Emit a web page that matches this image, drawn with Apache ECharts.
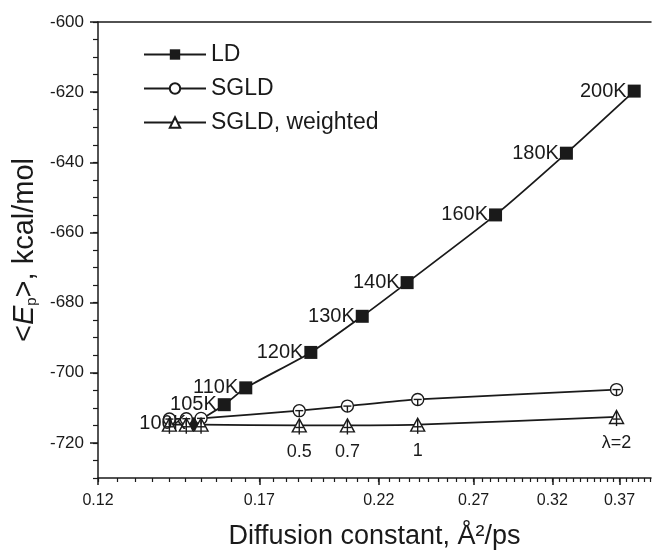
<!DOCTYPE html>
<html>
<head>
<meta charset="utf-8">
<script src="https://cdn.jsdelivr.net/npm/echarts@6/dist/echarts.min.js"></script>
<style>
  html, body { margin: 0; background: #fff; }
  #chart { width: 657px; height: 551px; }
</style>
</head>
<body>
<div id="chart"></div>
<script>
// LD runs at different temperatures
const ldTemps = ['100K', '105K', '110K', '120K', '130K', '140K', '160K', '180K', '200K'];
const ldD = [0.1475, 0.1576, 0.1651, 0.1900, 0.2123, 0.2339, 0.2831, 0.3299, 0.3819];
const ldE = [-714.6, -709.1, -704.3, -694.2, -683.9, -674.3, -655.0, -637.4, -619.7];

// SGLD runs at different lambda
const lambdaLabels = ['', '', '', '0.5', '0.7', '1', 'λ=2'];
const sgldD = [0.1400, 0.1452, 0.1499, 0.1853, 0.2056, 0.2393, 0.3676];
const sgldE = [-713.2, -713.1, -713.0, -710.8, -709.5, -707.6, -704.8];
const weightedE = [-714.8, -714.8, -714.8, -715.0, -715.0, -714.8, -712.6];

const xTicks = [0.12, 0.17, 0.22, 0.27, 0.32, 0.37];
const xMinor = [];
for (let v = 120; v <= 395; v += 5) xMinor.push(v / 1000);
const yTicks = [-720, -700, -680, -660, -640, -620, -600];
const yMinor = [];
for (let v = -730; v <= -600; v += 5) yMinor.push(v);

const X_MIN = 0.12, X_MAX = 0.396;
const Y_MIN = -730, Y_MAX = -600;

const ink = '#1a1a1a';
const font = 'Liberation Sans, Arial, sans-serif';

// x is on a log scale
const lx = v => Math.log(v);

const chart = echarts.init(document.getElementById('chart'));

function errBars(ds, es, up, down, capAt) {
  return {
    type: 'custom',
    xAxisIndex: 0,
    yAxisIndex: 0,
    z: 5,
    silent: true,
    data: ds.map((d, i) => [lx(d), es[i]]),
    renderItem(params, api) {
      const x = api.value(0), y = api.value(1);
      const a = api.coord([x, y + up]);
      const b = api.coord([x, y - down]);
      const c = api.coord([x, y + capAt]);
      const st = { stroke: ink, lineWidth: 1.4 };
      return {
        type: 'group',
        children: [
          { type: 'line', shape: { x1: a[0], y1: a[1], x2: b[0], y2: b[1] }, style: st },
          { type: 'line', shape: { x1: c[0] - 4, y1: c[1], x2: c[0] + 4, y2: c[1] }, style: st }
        ]
      };
    }
  };
}

const option = {
  animation: false,
  textStyle: { fontFamily: font, color: ink },
  grid: { left: 98, right: 6, top: 22, bottom: 73, containLabel: false, outerBoundsMode: 'none' },
  legend: {
    left: 143,
    top: 43,
    padding: 0,
    orient: 'vertical',
    itemWidth: 62,
    itemHeight: 13,
    itemGap: 11,
    data: ['LD', 'SGLD', 'SGLD, weighted'],
    textStyle: { fontSize: 23, color: ink, fontFamily: font }
  },
  xAxis: [
    {
      type: 'value',
      min: lx(X_MIN),
      max: lx(X_MAX),
      position: 'bottom',
      axisLine: { lineStyle: { color: ink, width: 1.5 } },
      axisTick: { length: 7, customValues: xTicks.map(lx), lineStyle: { color: ink, width: 1.5 } },
      axisLabel: {
        customValues: xTicks.map(lx),
        formatter: v => Math.exp(v).toFixed(2),
        fontSize: 16, color: ink, margin: 15
      },
      splitLine: { show: false },
      name: 'Diffusion constant, Å²/ps',
      nameLocation: 'middle',
      nameGap: 45,
      nameTextStyle: { fontSize: 27, color: ink }
    },
    {
      type: 'value',
      min: lx(X_MIN),
      max: lx(X_MAX),
      position: 'bottom',
      axisLine: { show: false },
      axisTick: { length: 4, customValues: xMinor.map(lx), lineStyle: { color: ink, width: 1.2 } },
      axisLabel: { show: false },
      splitLine: { show: false }
    },
    {
      type: 'value',
      min: lx(X_MIN),
      max: lx(X_MAX),
      position: 'top',
      axisLine: { lineStyle: { color: ink, width: 1.5 } },
      axisTick: { show: false },
      axisLabel: { show: false },
      splitLine: { show: false }
    }
  ],
  yAxis: [
    {
      type: 'value',
      min: Y_MIN,
      max: Y_MAX,
      position: 'left',
      axisLine: { show: true, lineStyle: { color: ink, width: 1.5 } },
      axisTick: { show: true, length: 8, customValues: yTicks, lineStyle: { color: ink, width: 1.5 } },
      axisLabel: { customValues: yTicks, fontSize: 17, color: ink, margin: 14 },
      splitLine: { show: false },
      name: '<{it|E}{sub|p}>, kcal/mol',
      nameLocation: 'middle',
      nameGap: 52,
      nameTextStyle: {
        fontSize: 29, color: ink,
        rich: {
          it: { fontSize: 29, fontStyle: 'italic' },
          sub: { fontSize: 15, verticalAlign: 'bottom', padding: [14, 0, 0, 0] }
        }
      }
    },
    {
      type: 'value',
      min: Y_MIN,
      max: Y_MAX,
      position: 'left',
      axisLine: { show: false },
      axisTick: { show: true, length: 5, customValues: yMinor, lineStyle: { color: ink, width: 1.2 } },
      axisLabel: { show: false },
      splitLine: { show: false }
    }
  ],
  series: [
    {
      name: 'LD',
      type: 'line',
      xAxisIndex: 0,
      yAxisIndex: 0,
      smooth: 0.2,
      symbol: 'rect',
      symbolSize: 13,
      itemStyle: { color: ink },
      lineStyle: { color: ink, width: 1.8 },
      data: ldD.map((d, i) => ({ name: ldTemps[i], value: [lx(d), ldE[i]] })),
      label: {
        show: true, position: 'left', distance: 1, formatter: '{b}',
        fontSize: 20, color: ink, fontFamily: font
      }
    },
    {
      name: 'SGLD',
      type: 'line',
      xAxisIndex: 0,
      yAxisIndex: 0,
      smooth: 0.2,
      symbol: 'circle',
      symbolSize: 12,
      itemStyle: { color: '#fff', borderColor: ink, borderWidth: 1.4 },
      lineStyle: { color: ink, width: 1.8 },
      data: sgldD.map((d, i) => [lx(d), sgldE[i]])
    },
    {
      name: 'SGLD, weighted',
      type: 'line',
      xAxisIndex: 0,
      yAxisIndex: 0,
      smooth: 0.2,
      symbol: 'triangle',
      symbolSize: [14, 13],
      itemStyle: { color: '#fff', borderColor: ink, borderWidth: 1.4 },
      lineStyle: { color: ink, width: 1.8 },
      data: sgldD.map((d, i) => ({ name: lambdaLabels[i], value: [lx(d), weightedE[i]] })),
      label: {
        show: true, position: 'bottom', distance: 10, formatter: '{b}',
        fontSize: 18, color: ink, fontFamily: font
      }
    },
    errBars(sgldD, sgldE, 0, 1.7, 0),
    errBars(sgldD, weightedE, 1.5, 2.6, -0.6)
  ]
};

chart.setOption(option);
</script>
</body>
</html>
